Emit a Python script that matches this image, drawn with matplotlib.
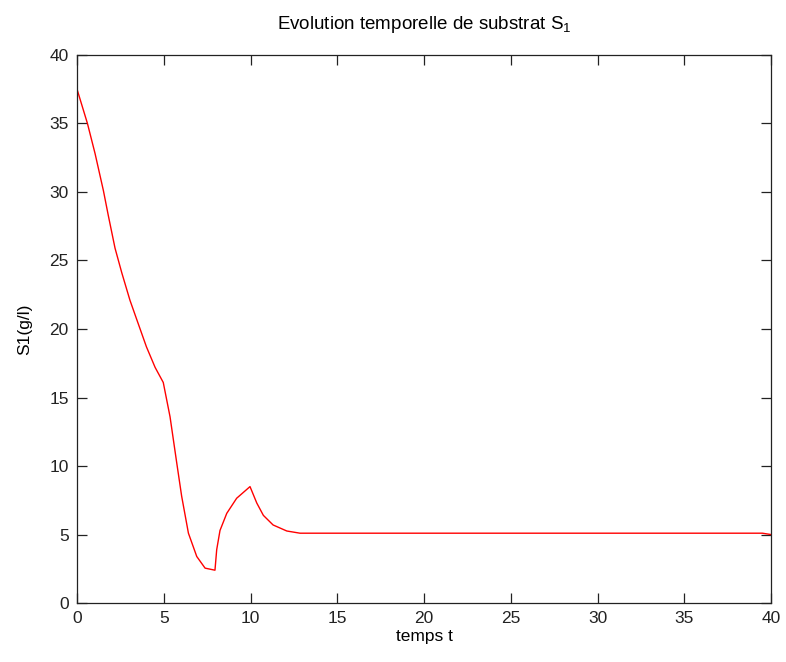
import matplotlib
matplotlib.use("Agg")
import matplotlib.pyplot as plt

# values
t = [0.0, 0.6, 1.04, 1.52, 1.8, 2.19, 2.58, 3.05, 3.44, 4.0, 4.5, 4.97,
     5.36, 5.75, 6.03, 6.42, 6.9, 7.38, 7.95, 8.05, 8.24, 8.63, 9.2, 9.97,
     10.36, 10.74, 11.3, 12.09, 12.85, 15.0, 20.0, 30.0, 39.5, 40.0]
s1 = [37.5, 35.0, 32.8, 30.1, 28.3, 25.9, 24.1, 22.1, 20.7, 18.7, 17.2, 16.1,
      13.6, 10.2, 7.8, 5.1, 3.4, 2.55, 2.4, 3.9, 5.3, 6.55, 7.65, 8.5,
      7.3, 6.4, 5.7, 5.26, 5.1, 5.1, 5.1, 5.1, 5.1, 5.0]

xticks = [0, 5, 10, 15, 20, 25, 30, 35, 40]
yticks = [0, 5, 10, 15, 20, 25, 30, 35, 40]

plt.rcParams['font.family'] = ['Liberation Sans', 'DejaVu Sans']
plt.rcParams['mathtext.default'] = 'regular'
plt.rcParams['font.size'] = 12.5

fig = plt.figure(figsize=(7.86, 6.62), dpi=100)
ax = fig.add_axes([0.098, 0.089, 0.883, 0.828])

ax.plot(t, s1, color='red', linewidth=1.0)

ax.set_xlim(0, 40)
ax.set_ylim(0, 40)
ax.set_xticks(xticks)
ax.set_yticks(yticks)
ax.tick_params(direction='in', top=True, right=True, length=7, width=0.9,
               labelsize=12.5, pad=6, colors='#222222')
for sp in ax.spines.values():
    sp.set_linewidth(0.9)
    sp.set_color('#222222')

ax.set_xlabel('temps t', fontsize=12.5, labelpad=2)
ax.set_ylabel('S1(g/l)', fontsize=12.5, labelpad=12)
ax.set_title('Evolution temporelle de substrat S$_1$', fontsize=13.5, pad=19)

fig.savefig('out.png', dpi=100)
